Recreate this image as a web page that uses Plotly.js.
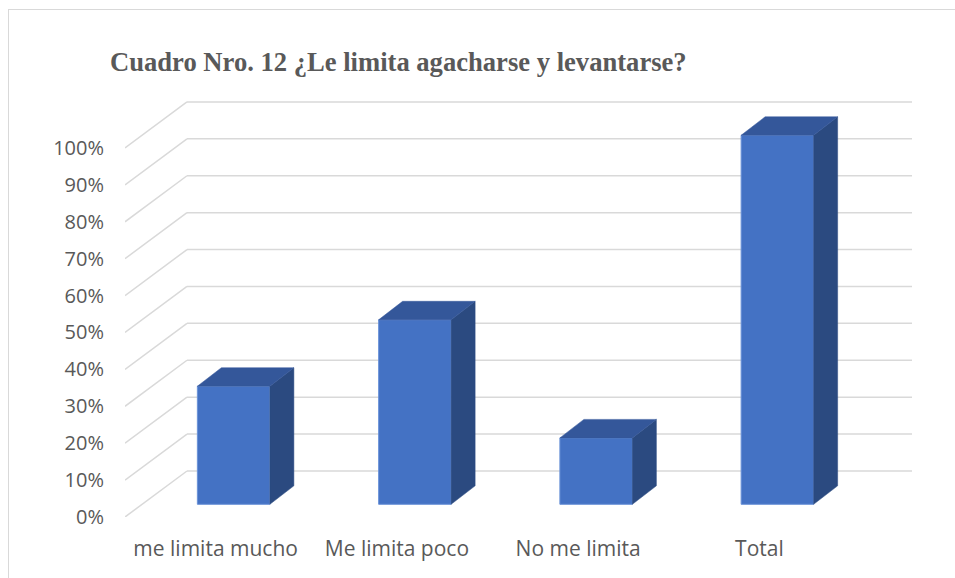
<!DOCTYPE html>
<html>
<head>
<meta charset="utf-8">
<script src="https://cdn.plot.ly/plotly-3.0.1.min.js"></script>
<style>
html,body{margin:0;padding:0;background:#fff;overflow:hidden;}
#wrap{position:relative;width:955px;height:578px;}
#chart{position:absolute;left:0;top:0;width:955px;height:578px;}
#frame{position:absolute;left:8px;top:9px;width:960px;height:600px;border-left:1px solid #D9D9D9;border-top:1px solid #D9D9D9;pointer-events:none;}
</style>
</head>
<body>
<div id="wrap"><div id="chart"></div><div id="frame"></div></div>
<script>
// ---- data ----
const categories = ["me limita mucho", "Me limita poco", "No me limita", "Total"];
const values = [0.32, 0.50, 0.18, 1.00];
const tickValues = [0, 0.1, 0.2, 0.3, 0.4, 0.5, 0.6, 0.7, 0.8, 0.9, 1.0];
const tickLabels = ["0%", "10%", "20%", "30%", "40%", "50%", "60%", "70%", "80%", "90%", "100%"];
const chartTitle = "Cuadro Nro. 12 ¿Le limita agacharse y levantarse?";

// ---- 3D look (depth offsets in axis units) ----
const barShiftX = 0.0993, barShiftY = 0.0344;   // bar front plane vs. floor front edge
const depthX = 0.1324, depthY = 0.0501;         // bar depth
const wallX = 0.342, wallY = 0.1247;            // back wall offset
const barW = 0.4;
const xMin = -0.5, xMax = categories.length - 0.5 + wallX;

const frontColor = "#4472C4", topColor = "#34579A", sideColor = "#2B4A80";
const gridColor = "#D9D9D9";

const xPos = categories.map((c, i) => i);
const traces = [];

traces.push({
  type: "bar",
  x: xPos.map(x => x + barShiftX),
  y: values,
  base: values.map(() => barShiftY),
  width: barW,
  marker: {color: frontColor, line: {color: "#6A92D8", width: 1}},
  hoverinfo: "skip"
});

values.forEach((v, i) => {
  const xl = xPos[i] + barShiftX - barW / 2;
  const xr = xPos[i] + barShiftX + barW / 2;
  const b = barShiftY, t = barShiftY + v;
  // side face
  traces.push({
    type: "scatter", mode: "lines", fill: "toself", fillcolor: sideColor,
    x: [xr, xr + depthX, xr + depthX, xr, xr],
    y: [b, b + depthY, t + depthY, t, b],
    line: {color: sideColor, width: 0.5}, hoverinfo: "skip"
  });
  // top face
  traces.push({
    type: "scatter", mode: "lines", fill: "toself", fillcolor: topColor,
    x: [xl, xr, xr + depthX, xl + depthX, xl],
    y: [t, t, t + depthY, t + depthY, t],
    line: {color: topColor, width: 0.5}, hoverinfo: "skip"
  });
});

const shapes = [];
tickValues.forEach(tv => {
  shapes.push({type: "line", xref: "x", yref: "y", layer: "below",
    x0: xMin, y0: tv, x1: xMin + wallX, y1: tv + wallY,
    line: {color: gridColor, width: 1.5}});
  shapes.push({type: "line", xref: "x", yref: "y", layer: "below",
    x0: xMin + wallX, y0: tv + wallY, x1: xMax, y1: tv + wallY,
    line: {color: gridColor, width: 1.5}});
});

const layout = {
  width: 955, height: 578,
  margin: {l: 125, r: 43, t: 100, b: 61},
  paper_bgcolor: "rgba(0,0,0,0)", plot_bgcolor: "rgba(0,0,0,0)",
  showlegend: false,
  title: {
    text: "<b>" + chartTitle + "</b>",
    font: {family: "Liberation Serif, Times New Roman, serif", size: 26.6, color: "#595959"},
    x: 110 / 955, xref: "container", xanchor: "left",
    y: 1 - 62 / 578, yref: "container", yanchor: "middle"
  },
  xaxis: {
    range: [xMin, xMax], tickvals: xPos, ticktext: categories,
    showgrid: false, zeroline: false, showline: false, ticks: "",
    ticklabelstandoff: 17,
    tickfont: {family: "Open Sans, sans-serif", size: 21, color: "#595959"},
    fixedrange: true
  },
  yaxis: {
    range: [0, 1.13], tickvals: tickValues, ticktext: tickLabels,
    showgrid: false, zeroline: false, showline: false, ticks: "",
    ticklabelstandoff: 20,
    tickfont: {family: "Open Sans, sans-serif", size: 20, color: "#595959"},
    fixedrange: true
  },
  shapes: shapes,
  bargap: 0
};

Plotly.newPlot("chart", traces, layout, {displayModeBar: false, staticPlot: true});
</script>
</body>
</html>
